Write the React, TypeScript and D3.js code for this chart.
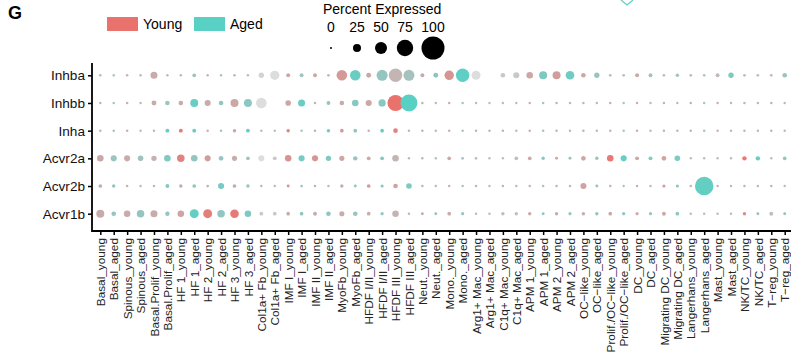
import React, { useEffect, useRef } from 'react';
import * as d3 from 'd3';

const cellTypes = [
  'Basal', 'Spinous', 'Basal.Prolif', 'HF 1', 'HF 2', 'HF 3', 'Col1a+ Fb', 'IMF I', 'IMF II',
  'MyoFb', 'HFDF I/II', 'HFDF III', 'Neut.', 'Mono.', 'Arg1+ Mac', 'C1q+ Mac', 'APM 1', 'APM 2',
  'OC\u2212like', 'Prolif./OC\u2212like', 'DC', 'Migrating DC', 'Langerhans', 'Mast', 'NK/TC', 'T\u2212reg',
];
const groups = ['young', 'aged'];
const columns = cellTypes.flatMap(c => groups.map(g => `${c}_${g}`));

const genes = ['Inhba', 'Inhbb', 'Inha', 'Acvr2a', 'Acvr2b', 'Acvr1b'];

// percent expressed, one value per column
const inhbaPct = [2, 2, 2, 2, 21, 2, 2, 7, 2, 2, 2, 2, 14, 33, 8, 8, 8, 3, 41, 41, 12, 44, 58, 44, 8, 12,
  34, 58, 31, 0, 11, 17, 19, 25, 25, 29, 11, 14, 3, 3, 8, 8, 3, 6, 3, 3, 8, 14, 3, 3, 3, 11];
const inhbbPct = [2, 2, 2, 2, 12, 11, 11, 25, 17, 11, 25, 25, 41, 0, 15, 21, 2, 8, 11, 19, 17, 22, 73, 77, 2, 2,
  2, 2, 2, 2, 2, 2, 2, 2, 2, 2, 2, 2, 2, 2, 2, 2, 2, 2, 2, 2, 2, 2, 2, 2, 2, 2];
const inhaPct = [2, 2, 2, 2, 2, 8, 8, 8, 2, 2, 6, 8, 2, 2, 6, 2, 2, 6, 7, 7, 2, 7, 11, 2, 2, 2,
  2, 2, 2, 2, 2, 2, 2, 2, 2, 2, 2, 2, 2, 2, 2, 2, 2, 2, 2, 2, 2, 2, 2, 2, 2, 2];
const acvr2aPct = [19, 17, 17, 15, 14, 19, 23, 19, 17, 11, 13, 7, 17, 8, 19, 17, 17, 14, 13, 10, 8, 8, 19, 2, 2, 2,
  7, 3, 3, 2, 2, 7, 7, 6, 4, 4, 11, 6, 19, 17, 8, 8, 11, 15, 2, 2, 2, 2, 10, 10, 2, 7];
const acvr2bPct = [7, 6, 2, 2, 2, 8, 6, 7, 3, 17, 7, 6, 2, 2, 4, 3, 2, 2, 6, 4, 7, 5, 11, 15, 2, 2,
  2, 2, 2, 2, 2, 2, 2, 2, 2, 2, 17, 4, 2, 2, 2, 2, 5, 5, 2, 83, 2, 2, 2, 2, 2, 2];
const acvr1bPct = [25, 11, 19, 23, 21, 10, 19, 31, 31, 23, 29, 19, 7, 7, 7, 7, 8, 11, 13, 11, 7, 5, 19, 2, 4, 4,
  7, 5, 2, 2, 6, 6, 6, 4, 6, 5, 6, 6, 7, 5, 5, 5, 8, 7, 2, 2, 2, 2, 6, 4, 8, 4];

// scaled average expression (0 = grey, 1 = full group colour)
const inhbaExp = [.3, .3, .3, .3, .35, .3, .3, .45, .3, .3, .3, .3, .05, 0, .4, .4, .4, .3, .55, .85, .4, .5, .25, .35, .4, .6,
  .6, .95, 0, 0, .1, .1, .4, .7, .5, .8, .4, .45, .2, .2, .4, .4, .2, .4, .2, .2, .2, .7, .2, .2, .2, .45];
const inhbbExp = [.3, .3, .3, .3, .35, .4, .35, .85, .35, .5, .4, .55, 0, 0, .4, .85, .3, .5, .35, .6, .4, .6, 1, 1, .3, .3,
  .3, .3, .2, .2, .2, .2, .3, .3, .3, .3, .3, .3, .3, .3, .3, .3, .3, .3, .3, .3, .3, .3, .3, .3, .3, .3];
const inhaExp = [.3, .3, .3, .3, .3, .85, .9, .85, .3, .3, .45, .85, .2, .2, .8, .3, .3, .8, .55, .6, .3, .9, .8, .3, .3, .3,
  .3, .3, .3, .3, .3, .3, .3, .3, .3, .3, .3, .3, .3, .3, .3, .3, .3, .3, .3, .3, .3, .3, .3, .3, .3, .3];
const acvr2aExp = [.4, .45, .35, .4, .3, .7, .8, .5, .5, .45, .35, .4, 0, .1, .6, .75, .6, .7, .4, .5, .35, .6, .25, .3, .3, .3,
  .4, .4, .2, .2, .2, .15, .4, .6, .4, .5, .4, .5, .9, .85, .4, .6, .45, .7, .2, .2, .2, .2, .9, .9, .2, .5];
const acvr2bExp = [.35, .5, .3, .3, .3, .6, .35, .5, .3, .75, .35, .5, .3, .3, .6, .3, .3, .3, .35, .5, .5, .6, .45, .7, .3, .3,
  .3, .3, .3, .3, .3, .3, .3, .3, .3, .3, .45, .5, .3, .3, .3, .3, .5, .55, .3, .9, .3, .3, .3, .3, .3, .3];
const acvr1bExp = [.35, .5, .35, .5, .35, .5, .45, .9, .85, .5, .9, .7, .1, .1, .35, .5, .35, .55, .35, .45, .35, .55, .25, .3, .35, .5,
  .35, .5, .2, .2, .15, .15, .35, .5, .35, .5, .35, .5, .4, .55, .35, .5, .4, .55, .2, .2, .2, .2, .7, .5, .15, .5];

const pctByGene = [inhbaPct, inhbbPct, inhaPct, acvr2aPct, acvr2bPct, acvr1bPct];
const expByGene = [inhbaExp, inhbbExp, inhaExp, acvr2aExp, acvr2bExp, acvr1bExp];

const legendPct = [0, 25, 50, 75, 100];
const groupLabels = ['Young', 'Aged'];
const groupColors = ['#ea726d', '#58d0c4'];

const W = 791;
const H = 360;

const App = () => {
  const svgRef = useRef<SVGSVGElement>(null);

  useEffect(() => {
    const svg = d3.select(svgRef.current);
    svg.selectAll('*').remove();

    const x = d3.scalePoint().domain(columns).range([100.3, 784.7]);
    const y = d3.scalePoint().domain(genes).range([75.3, 213.7]);
    const r = d3.scaleLinear().domain([0, 25, 50, 75, 100]).range([1, 4, 6, 8.2, 11.5]);
    const colorScales = groupColors.map(c =>
      d3.scaleLinear<string>().domain([0, 0.15, 1]).range(['#dddddd', '#bebebe', c]).clamp(true));

    const font = 'Liberation Sans, Arial, Helvetica, sans-serif';

    // panel letter
    svg.append('text').attr('x', 8).attr('y', 19).attr('font-family', font)
      .attr('font-weight', 'bold').attr('font-size', 18).text('G');

    // cut-off marker from the panel above
    svg.append('path').attr('d', 'M621,0 L627,5 L633,0').attr('fill', 'none')
      .attr('stroke', groupColors[1]).attr('stroke-width', 1.2);

    // group legend
    const leg = svg.append('g');
    const legX = [107, 194];
    groupLabels.forEach((lab, i) => {
      leg.append('rect').attr('x', legX[i]).attr('y', 17).attr('width', 31).attr('height', 14)
        .attr('fill', groupColors[i]);
      leg.append('text').attr('x', legX[i] + 36).attr('y', 29).attr('font-family', font)
        .attr('font-size', 14).text(lab);
    });

    // size legend
    svg.append('text').attr('x', 323).attr('y', 14).attr('font-family', font)
      .attr('font-size', 14).text('Percent Expressed');
    const lxPos = [331, 357, 381, 405, 433];
    legendPct.forEach((p, i) => {
      svg.append('text').attr('x', lxPos[i]).attr('y', 32).attr('text-anchor', 'middle')
        .attr('font-family', font).attr('font-size', 14).text(p);
      svg.append('circle').attr('cx', lxPos[i]).attr('cy', 48).attr('r', r(p))
        .attr('fill', '#000');
    });

    // dots
    const dots = genes.flatMap((g, gi) => columns.map((c, ci) => ({
      gene: g, col: c, pct: pctByGene[gi][ci], exp: expByGene[gi][ci], grp: ci % 2,
    }))).filter(d => d.pct > 0);

    svg.append('g').selectAll('circle').data(dots).join('circle')
      .attr('cx', d => x(d.col)!)
      .attr('cy', d => y(d.gene)!)
      .attr('r', d => r(d.pct))
      .attr('fill', d => colorScales[d.grp](d.exp));

    // axes
    const xAxis = svg.append('g').attr('transform', 'translate(0,231)')
      .call(d3.axisBottom(x).tickSize(4).tickPadding(2).tickSizeOuter(0));
    xAxis.select('.domain').remove();
    xAxis.append('line').attr('x1', 92).attr('x2', W).attr('stroke', '#000').attr('stroke-width', 1.8);
    xAxis.selectAll('.tick line').attr('stroke', '#000').attr('stroke-width', 1.5);
    xAxis.selectAll('.tick text')
      .attr('font-family', font).attr('font-size', 11.8).attr('fill', '#222')
      .attr('text-anchor', 'end')
      .attr('transform', 'rotate(-90)')
      .attr('x', -7).attr('y', 0).attr('dy', '0.35em');

    const yAxis = svg.append('g').attr('transform', 'translate(92,0)')
      .call(d3.axisLeft(y).tickSize(4).tickPadding(3).tickSizeOuter(0));
    yAxis.select('.domain').remove();
    yAxis.append('line').attr('y1', 63).attr('y2', 231.9).attr('stroke', '#000').attr('stroke-width', 1.8);
    yAxis.selectAll('.tick line').attr('stroke', '#000').attr('stroke-width', 1.5);
    yAxis.selectAll('.tick text').attr('font-family', font).attr('font-size', 13.6).attr('fill', '#111');
  }, []);

  return (
    <svg ref={svgRef} width={W} height={H}
      style={{ position: 'absolute', left: 0, top: 0, background: '#fff' }} />
  );
};

export default App;
